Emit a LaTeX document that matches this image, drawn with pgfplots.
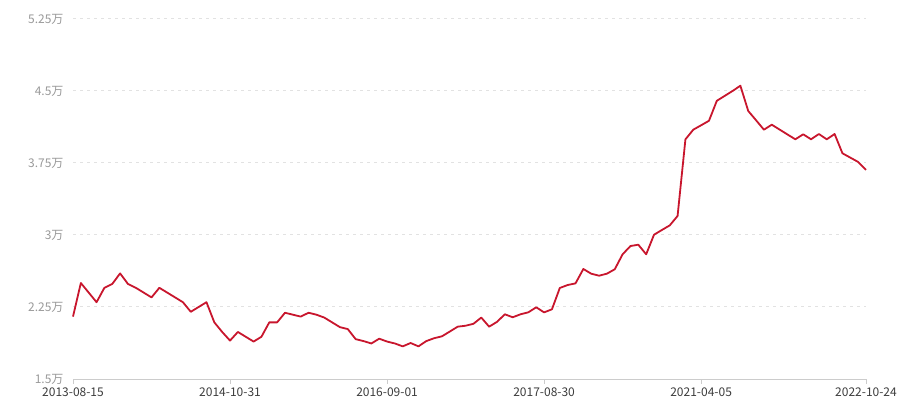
\documentclass[border=0pt]{standalone}
\usepackage{fontspec}
\setmainfont{Noto Sans CJK SC}
\usepackage{pgfplots}
\pgfplotsset{compat=1.18}
\usepackage{pgfplotstable}
\definecolor{linered}{RGB}{200,22,45}
\definecolor{gridgray}{RGB}{226,226,226}
\definecolor{axisgray}{RGB}{204,204,204}
\definecolor{ylab}{RGB}{153,153,153}
\definecolor{xlab}{RGB}{60,60,60}

\pgfplotstableread{
i v
0 2.15
1 2.50
2 2.40
3 2.30
4 2.45
5 2.49
6 2.60
7 2.49
8 2.45
9 2.40
10 2.35
11 2.45
12 2.40
13 2.35
14 2.30
15 2.20
16 2.25
17 2.30
18 2.09
19 1.99
20 1.90
21 1.99
22 1.94
23 1.89
24 1.94
25 2.09
26 2.09
27 2.19
28 2.17
29 2.15
30 2.19
31 2.17
32 2.14
33 2.09
34 2.04
35 2.02
36 1.915
37 1.895
38 1.87
39 1.92
40 1.89
41 1.87
42 1.84
43 1.875
44 1.84
45 1.895
46 1.925
47 1.945
48 1.995
49 2.045
50 2.055
51 2.075
52 2.14
53 2.045
54 2.095
55 2.174
56 2.143
57 2.174
58 2.195
59 2.247
60 2.194
61 2.226
62 2.448
63 2.479
64 2.496
65 2.646
66 2.597
67 2.576
68 2.597
69 2.643
70 2.799
71 2.885
72 2.899
73 2.799
74 3.003
75 3.052
76 3.10
77 3.198
78 3.996
79 4.097
80 4.143
81 4.19
82 4.398
83 4.449
84 4.50
85 4.555
86 4.292
87 4.195
88 4.097
89 4.149
90 4.098
91 4.047
92 3.997
93 4.049
94 3.997
95 4.052
96 3.997
97 4.052
98 3.851
99 3.806
100 3.761
101 3.678
}\data

\begin{document}
\begin{tikzpicture}
\useasboundingbox (0,0) rectangle (900bp,400bp);
\begin{axis}[
  at={(73bp,21bp)}, anchor=south west,
  scale only axis, width=793bp, height=360bp,
  xmin=0, xmax=101, ymin=1.5, ymax=5.25,
  enlargelimits=false, clip=false,
  axis x line*=bottom, axis y line*=left,
  y axis line style={draw=none},
  x axis line style={axisgray, line width=1bp, -},
  ytick={1.5,2.25,3,3.75,4.5,5.25},
  yticklabels={1.5万,2.25万,3万,3.75万,4.5万,5.25万},
  xtick={0,20,40,60,80,101},
  xticklabels={2013-08-15,2014-10-31,2016-09-01,2017-08-30,2021-04-05,2022-10-24},
  tick align=outside, major tick length=5bp,
  x tick style={axisgray, line width=1bp},
  y tick style={draw=none},
  ymajorgrids,
  grid style={gridgray, line width=1bp, dash pattern=on 3bp off 4bp},
  yticklabel style={color=ylab, font=\fontsize{12bp}{14bp}\selectfont, xshift=-1bp},
  xticklabel style={color=xlab, font=\fontsize{12bp}{14bp}\selectfont},
]
\addplot[linered, line width=1.8bp, line join=round] table[x=i,y=v]{\data};
\end{axis}
\end{tikzpicture}
\end{document}
